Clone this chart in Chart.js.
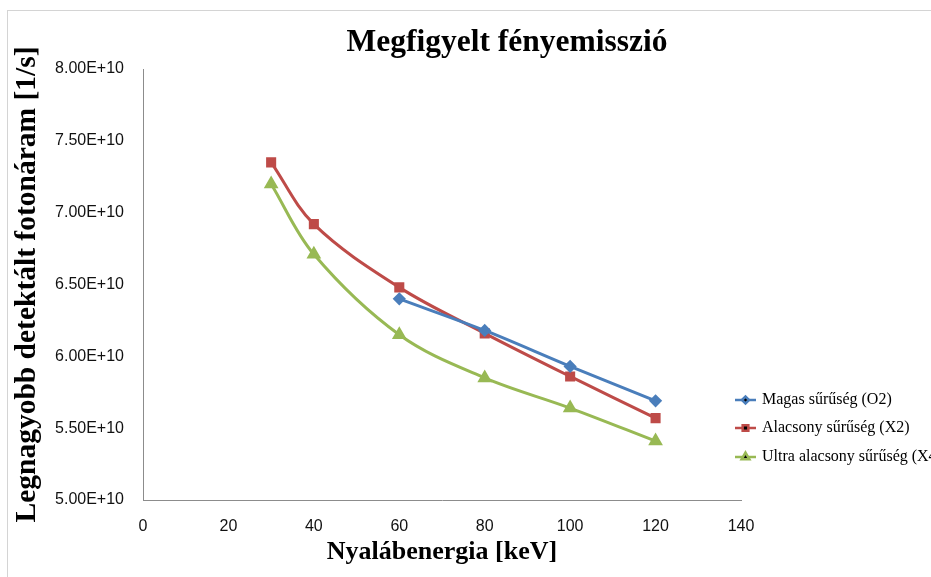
<!DOCTYPE html>
<html>
<head>
<meta charset="utf-8">
<script src="https://cdn.jsdelivr.net/npm/chart.js@4.4.1/dist/chart.umd.min.js"></script>
<style>
  html, body { margin: 0; padding: 0; background: #fff; overflow: hidden; }
  #frame { position: absolute; left: 7px; top: 10px; width: 1100px; height: 1000px; border: 1px solid #d4d4d4; }
  #wrap { position: absolute; left: 0; top: 0; width: 1014px; height: 577px; }
</style>
</head>
<body>
<div id="frame"></div>
<div id="wrap"><canvas id="chart" width="1014" height="577"></canvas></div>
<script>
// beam energy [keV] for each series
const energyMagas = [60, 80, 100, 120];
const energyAlacsony = [30, 40, 60, 80, 100, 120];
const energyUltra = [30, 40, 60, 80, 100, 120];

// highest detected photon rate [1/s]
const photonMagas = [6.40e10, 6.18e10, 5.93e10, 5.69e10];
const photonAlacsony = [7.35e10, 6.92e10, 6.48e10, 6.16e10, 5.86e10, 5.57e10];
const photonUltra = [7.20e10, 6.71e10, 6.15e10, 5.85e10, 5.64e10, 5.41e10];

const seriesNames = ["Magas sűrűség (O2)", "Alacsony sűrűség (X2)", "Ultra alacsony sűrűség (X4)"];
const xTicks = [0, 20, 40, 60, 80, 100, 120, 140];
const yTicks = [5.0e10, 5.5e10, 6.0e10, 6.5e10, 7.0e10, 7.5e10, 8.0e10];

const blue = "#4a7ebb", red = "#be4b48", green = "#98b954";
const serif = "'Liberation Serif', 'DejaVu Serif', serif";
const sans = "'Liberation Sans', Arial, sans-serif";

const pts = (xs, ys) => xs.map((x, i) => ({ x: x, y: ys[i] }));

// legend: line + marker + text, placed right of the plot
const sideLegend = {
  id: "sideLegend",
  afterDraw(chart) {
    const ctx = chart.ctx;
    const area = chart.chartArea;
    const x0 = area.right - 6;
    const rows = [area.top + 331, area.top + 359, area.top + 388];
    ctx.save();
    chart.data.datasets.forEach((ds, i) => {
      const y = rows[i];
      ctx.strokeStyle = ds.borderColor;
      ctx.lineWidth = 2.5;
      ctx.beginPath();
      ctx.moveTo(x0, y);
      ctx.lineTo(x0 + 21, y);
      ctx.stroke();
      Chart.helpers.drawPoint(ctx, {
        pointStyle: ds.pointStyle,
        radius: ds.pointRadius - 1,
        borderWidth: 1
      }, x0 + 10.5, y);
      ctx.fillStyle = "#000";
      ctx.font = "16px " + serif;
      ctx.textBaseline = "middle";
      ctx.fillText(ds.label, x0 + 27, y);
    });
    ctx.restore();
  }
};

function makeSeries(label, data, color, style, r) {
  return {
    label: label,
    data: data,
    borderColor: color,
    backgroundColor: color,
    pointBackgroundColor: color,
    pointBorderColor: color,
    pointStyle: style,
    pointRadius: r,
    borderWidth: 3,
    tension: 0.35,
    fill: false,
    yAxisID: "y"
  };
}

new Chart(document.getElementById("chart"), {
  type: "line",
  data: {
    datasets: [
      makeSeries(seriesNames[0], pts(energyMagas, photonMagas), blue, "rectRot", 4.5),
      makeSeries(seriesNames[1], pts(energyAlacsony, photonAlacsony), red, "rect", 5),
      makeSeries(seriesNames[2], pts(energyUltra, photonUltra), green, "triangle", 5.5)
    ]
  },
  options: {
    responsive: false,
    animation: false,
    plugins: {
      legend: { display: false },
      tooltip: { enabled: false },
      title: {
        display: true,
        text: "Megfigyelt fényemisszió",
        color: "#000",
        font: { family: serif, size: 31.5, weight: "bold" },
        padding: { top: 24, bottom: 7.2 }
      }
    },
    scales: {
      x: {
        type: "linear",
        min: 0,
        max: 140,
        afterBuildTicks: s => { s.ticks = xTicks.map(v => ({ value: v })); },
        afterFit: s => { s.height = 77; },
        grid: { display: false },
        border: { display: true, color: "#8c8c8c", width: 1 },
        ticks: {
          color: "#111",
          padding: 9,
          maxRotation: 0,
          font: { family: sans, size: 16 }
        },
        title: {
          display: true,
          text: "Nyalábenergia [keV]",
          color: "#000",
          font: { family: serif, size: 26, weight: "bold" },
          padding: { top: 0, bottom: 9 }
        }
      },
      y: {
        type: "linear",
        min: 5.0e10,
        max: 8.0e10,
        afterBuildTicks: s => { s.ticks = yTicks.map(v => ({ value: v })); },
        afterFit: s => { s.width = 143; },
        grid: { display: false },
        border: { display: true, color: "#8c8c8c", width: 1 },
        ticks: {
          color: "#111",
          padding: 11,
          font: { family: sans, size: 16 },
          callback: v => (v / 1e10).toFixed(2) + "E+10"
        },
        title: {
          display: true,
          text: "Legnagyobb detektált fotonáram [1/s]",
          color: "#000",
          font: { family: serif, size: 29.5, weight: "bold" },
          padding: { top: 10, bottom: 0 }
        }
      },
      // empty axis reserving the space on the right that holds the legend
      side: {
        type: "linear",
        position: "right",
        afterFit: s => { s.width = 273; },
        grid: { display: false },
        border: { display: false },
        ticks: { display: false }
      }
    }
  },
  plugins: [sideLegend]
});
</script>
</body>
</html>
